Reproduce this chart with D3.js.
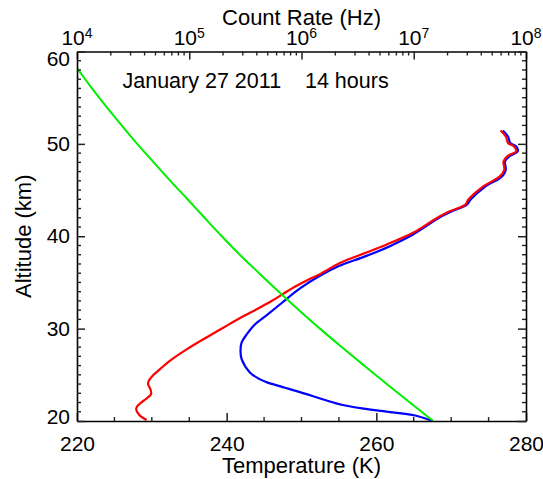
<!DOCTYPE html>
<html>
<head>
<meta charset="utf-8">
<script src="https://cdn.jsdelivr.net/npm/d3@7"></script>
<style>
  body { margin: 0; background: #fff; }
  text { font-family: "Liberation Sans", Arial, Helvetica, sans-serif; fill: #000; }
</style>
</head>
<body>
<svg id="chart" width="543" height="479"></svg>
<script>
// Axis ticks and labels
const tempTicks = [220, 240, 260, 280];
const altTicks = [20, 30, 40, 50, 60];
const rateTicks = [1e4, 1e5, 1e6, 1e7, 1e8];
const titleText = "January 27 2011    14 hours";
const xTitle = "Temperature (K)";
const yTitle = "Altitude (km)";
const topTitle = "Count Rate (Hz)";

// Temperature profile (red)
const redAlt  = [20.11, 20.68, 21.30, 21.65, 22.08, 22.38, 22.92, 23.46, 24.00, 24.35, 24.97, 25.62, 26.51, 27.78,
                 29.04, 30.12, 31.20, 32.09, 32.99, 33.79, 34.54, 35.22, 35.87, 37.13, 38.21, 39.11, 40.37, 41.73,
                 42.16, 42.70, 43.43, 43.97, 45.40, 46.48, 47.21, 48.10, 48.72, 49.18, 49.72, 50.09, 50.80, 51.45];
const redTemp = [229.3, 228.3, 227.9, 228.1, 228.7, 229.2, 229.9, 229.8, 229.5, 229.6, 230.2, 231.1, 232.4, 234.7,
                 237.3, 239.6, 241.9, 244.0, 246.0, 247.6, 249.1, 250.7, 252.4, 255.2, 258.6, 261.4, 264.9, 267.6,
                 268.5, 269.8, 271.9, 272.3, 274.3, 276.5, 277.1, 277.0, 277.6, 278.7, 278.4, 277.6, 277.3, 276.6];

// Temperature profile (blue)
const blueAlt  = [20.00, 20.60, 21.09, 21.73, 23.13, 23.60, 24.18, 24.53, 25.26, 26.69, 27.59, 28.50, 29.40,
                  30.40, 31.50, 32.80, 34.30, 35.69, 36.77, 37.85, 38.93, 40.19, 42.10, 42.70, 43.43, 43.97, 45.40,
                  46.48, 47.21, 48.10, 48.72, 49.18, 49.72, 50.09, 50.80, 51.45];
const blueTemp = [267.5, 265.2, 260.6, 255.5, 249.8, 247.8, 245.4, 244.4, 243.1, 242.0, 241.85, 242.0, 242.7,
                  243.7, 245.4, 247.4, 249.7, 252.4, 255.0, 258.6, 261.8, 264.9, 268.6, 270.1, 272.1, 272.6, 274.6,
                  276.8, 277.3, 277.2, 277.9, 278.9, 278.7, 277.9, 277.6, 276.9];

// Count rate profile (green, top axis)
const greenAlt  = [58.2, 56, 54, 52, 50, 48, 46, 44, 42, 40, 38, 36, 34, 32, 30, 28, 26, 24, 22, 20];
const greenRate = [1.00e4, 1.36e4, 1.83e4, 2.50e4, 3.44e4, 4.82e4, 6.79e4, 9.66e4, 1.37e5, 1.95e5,
                   2.82e5, 4.19e5, 6.27e5, 9.51e5, 1.46e6, 2.28e6, 3.61e6, 5.75e6, 9.23e6, 1.49e7];

const box = { left: 77, right: 526, top: 51.5, bottom: 421 };
const tickFont = 21;
const titleFont = 22;

const svg = d3.select("#chart");

const x = d3.scaleLinear().domain([220, 280]).range([box.left, box.right]);
const xr = d3.scaleLog().domain([1e4, 1e8]).range([box.left, box.right]);
const y = d3.scaleLinear().domain([20, 60]).range([box.bottom, box.top]);

// Clip lines to the plotting box
svg.append("defs").append("clipPath").attr("id", "plotClip")
  .append("rect")
  .attr("x", box.left).attr("y", box.top)
  .attr("width", box.right - box.left).attr("height", box.bottom - box.top);

const plot = svg.append("g").attr("clip-path", "url(#plotClip)");

const lineT = d3.line().curve(d3.curveCatmullRom.alpha(0.5))
  .x(d => x(d[1])).y(d => y(d[0]));
const lineR = d3.line().curve(d3.curveCatmullRom.alpha(0.5))
  .x(d => xr(d[1])).y(d => y(d[0]));

plot.append("path")
  .datum(d3.zip(blueAlt, blueTemp))
  .attr("d", lineT).attr("fill", "none").attr("stroke", "#0000ff").attr("stroke-width", 2.2);
plot.append("path")
  .datum(d3.zip(redAlt, redTemp))
  .attr("d", lineT).attr("fill", "none").attr("stroke", "#ff0000").attr("stroke-width", 2.2);
plot.append("path")
  .datum(d3.zip(greenAlt, greenRate))
  .attr("d", lineR).attr("fill", "none").attr("stroke", "#00f000").attr("stroke-width", 2);

// Axes: major ticks drawn inward
function styleAxis(g) {
  g.selectAll(".domain").attr("stroke", "#000").attr("stroke-width", 1.6);
  g.selectAll(".tick line").attr("stroke", "#222").attr("stroke-width", 1.5);
  g.selectAll("text").attr("font-size", tickFont).attr("font-family", null).attr("fill", "#000");
}

svg.append("g").attr("transform", `translate(0,${box.bottom})`)
  .call(d3.axisBottom(x).tickValues(tempTicks).tickSizeInner(-8).tickSizeOuter(0).tickPadding(15).tickFormat(d3.format("d")))
  .call(styleAxis);

svg.append("g").attr("transform", `translate(0,${box.top})`)
  .call(d3.axisTop(xr).tickValues(rateTicks).tickSizeInner(-8).tickSizeOuter(0).tickFormat(() => ""))
  .call(styleAxis);

const gLeft = svg.append("g").attr("transform", `translate(${box.left},0)`)
  .call(d3.axisLeft(y).tickValues(altTicks).tickSizeInner(-8).tickSizeOuter(0).tickPadding(7).tickFormat(d3.format("d")))
  .call(styleAxis);

svg.append("g").attr("transform", `translate(${box.right},0)`)
  .call(d3.axisRight(y).tickValues(altTicks).tickSizeInner(-8).tickSizeOuter(0).tickFormat(() => ""))
  .call(styleAxis);

// Keep the end labels of the altitude axis inside the box
gLeft.selectAll(".tick").each(function (d) {
  const t = d3.select(this).select("text");
  if (d === 60) t.attr("y", 7.5);
  if (d === 20) t.attr("y", -4.5);
});

// Minor ticks
const minorTemp = d3.range(220, 281, 5).filter(v => !tempTicks.includes(v));
const minorAlt = d3.range(20, 61, 1).filter(v => !altTicks.includes(v));
const minorRate = [];
[1e4, 1e5, 1e6, 1e7].forEach(dec => { for (let k = 2; k <= 9; k++) minorRate.push(dec * k); });

const minor = svg.append("g").attr("stroke", "#222").attr("stroke-width", 1.4);
minor.selectAll(".mb").data(minorTemp).join("line")
  .attr("x1", d => x(d)).attr("x2", d => x(d)).attr("y1", box.bottom).attr("y2", box.bottom - 4);
minor.selectAll(".mt").data(minorRate).join("line")
  .attr("x1", d => xr(d)).attr("x2", d => xr(d)).attr("y1", box.top).attr("y2", box.top + 4);
minor.selectAll(".ml").data(minorAlt).join("line")
  .attr("x1", box.left).attr("x2", box.left + 4).attr("y1", d => y(d)).attr("y2", d => y(d));
minor.selectAll(".mr").data(minorAlt).join("line")
  .attr("x1", box.right).attr("x2", box.right - 4).attr("y1", d => y(d)).attr("y2", d => y(d));

// Top axis labels as powers of ten
const topLabels = svg.append("g");
rateTicks.forEach(v => {
  const t = topLabels.append("text")
    .attr("x", xr(v)).attr("y", 45)
    .attr("text-anchor", "middle")
    .attr("font-size", tickFont);
  t.append("tspan").text("10");
  t.append("tspan").attr("font-size", 14).attr("dy", -7).text(String(Math.round(Math.log10(v))));
});

// Titles
svg.append("text")
  .attr("x", (box.left + box.right) / 2).attr("y", 473)
  .attr("text-anchor", "middle").attr("font-size", titleFont)
  .text(xTitle);

svg.append("text")
  .attr("x", (box.left + box.right) / 2).attr("y", 25)
  .attr("text-anchor", "middle").attr("font-size", titleFont)
  .text(topTitle);

svg.append("text")
  .attr("transform", `translate(31,${(box.top + box.bottom) / 2}) rotate(-90)`)
  .attr("text-anchor", "middle").attr("font-size", titleFont)
  .text(yTitle);

svg.append("text")
  .attr("x", 122.5).attr("y", 88)
  .attr("font-size", 21.5)
  .style("white-space", "pre")
  .text(titleText);
</script>
</body>
</html>
